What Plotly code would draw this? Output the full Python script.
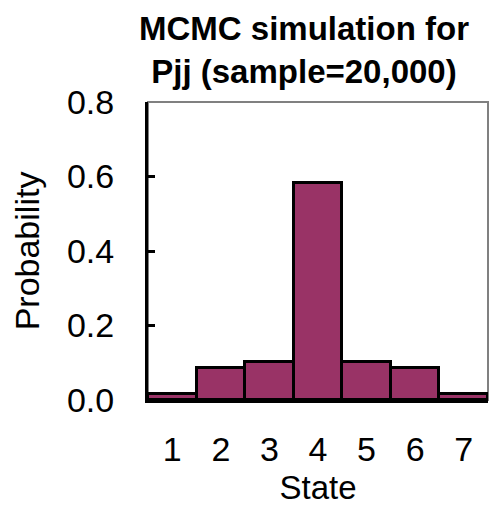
import plotly.graph_objects as go

states = ["1", "2", "3", "4", "5", "6", "7"]
probabilities = [0.015, 0.085, 0.103, 0.582, 0.103, 0.085, 0.015]
y_ticks = [0.0, 0.2, 0.4, 0.6, 0.8]
y_tick_labels = ["0.0", "0.2", "0.4", "0.6", "0.8"]
title_lines = ["MCMC simulation for", "Pjj (sample=20,000)"]

FONT = "Liberation Sans, Arial, sans-serif"

fig = go.Figure(go.Bar(
    x=states, y=probabilities,
    marker=dict(color="#993366", line=dict(color="black", width=3)),
    width=1.0,
))

fig.update_layout(
    width=502, height=513,
    margin=dict(l=148, r=14, t=102, b=113),
    paper_bgcolor="white", plot_bgcolor="white",
    bargap=0,
    showlegend=False,
    font=dict(family=FONT, size=34, color="black"),
    xaxis=dict(
        type="category", range=[-0.5, 6.5],
        showline=True, linecolor="black", linewidth=3,
        ticks="", showgrid=False, zeroline=False,
        tickfont=dict(size=34), ticklabelstandoff=17,
        title=dict(text="State", font=dict(size=33), standoff=10),
    ),
    yaxis=dict(
        range=[0, 0.8], tickvals=y_ticks, ticktext=y_tick_labels,
        showline=True, linecolor="black", linewidth=3,
        ticks="inside", ticklen=7, tickwidth=3, tickcolor="black",
        showgrid=False, zeroline=False,
        tickfont=dict(size=34), ticklabelstandoff=24,
        title=dict(text="Probability", font=dict(size=34), standoff=18),
    ),
    shapes=[dict(
        type="rect", xref="paper", yref="paper", x0=0, x1=1, y0=0, y1=1,
        line=dict(color="#808080", width=2), layer="below",
    )],
    annotations=[dict(
        text="<b>" + "<br>".join(title_lines) + "</b>",
        xref="paper", yref="paper", x=(304 - 148) / 340, y=1 + (102 - 8) / 298,
        xanchor="center", yanchor="top", showarrow=False,
        font=dict(family=FONT, size=33, color="black"),
    )],
)

fig.write_html("out.html")
